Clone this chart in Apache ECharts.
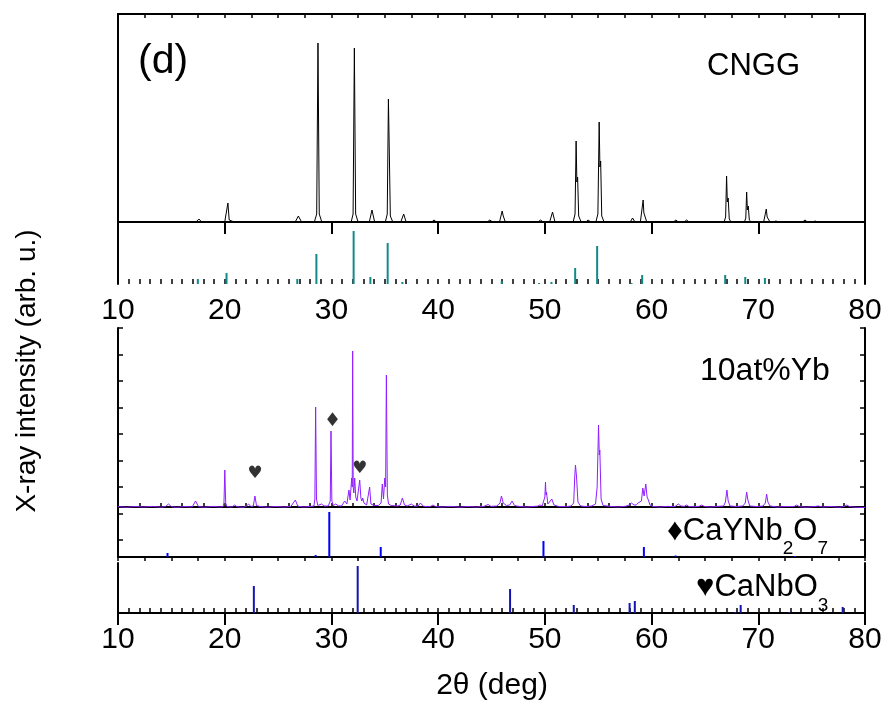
<!DOCTYPE html>
<html>
<head>
<meta charset="utf-8">
<title>XRD (d)</title>
<script src="https://cdn.jsdelivr.net/npm/echarts@6/dist/echarts.min.js"></script>
<style>
  html, body { margin: 0; padding: 0; background: #fff; }
  #chart { width: 886px; height: 704px; }
</style>
</head>
<body>
<div id="chart"></div>
<script>
// x tick labels
var xTicks = [10, 20, 30, 40, 50, 60, 70, 80];

// CNGG pattern: [2theta, intensity above baseline]
var cnggPattern = [
  [10,0],[13,0.3],[16,0],[17.3,0],[17.58,3],[17.85,0],[18.1,0],
  [20.0,0],[20.18,2],[20.3,19],[20.42,2],[20.6,0],[20.9,0],
  [26.6,0],[26.9,6],[27.2,0],[27.5,0],
  [28.4,0],[28.62,8],[28.74,179],[28.86,8],[29.1,0],[29.4,0],
  [31.85,0],[32.03,8],[32.15,174],[32.27,8],[32.5,0],[32.8,0],
  [33.55,0],[33.8,12],[34.05,0],[34.3,0],
  [35.05,0],[35.23,8],[35.34,123],[35.42,72],[35.52,6],[35.75,0],[36.0,0],
  [36.5,0],[36.77,8],[37.0,0],[37.3,0],
  [39.4,0],[39.61,2],[39.85,0],[40.1,0],
  [44.6,0],[44.84,2],[45.1,0],[45.4,0],
  [45.75,0],[46.0,11],[46.1,6],[46.3,0],[46.6,0],
  [49.35,0],[49.59,2],[49.85,0],[50.1,0],
  [50.45,0],[50.72,10],[50.95,0],[51.2,0],
  [52.65,0],[52.83,8],[52.93,81],[53.0,40],[53.07,45],[53.17,6],[53.4,0],[53.65,0],
  [53.85,0],[54.05,2],[54.3,0],[54.55,0],
  [54.78,0],[54.97,8],[55.09,100],[55.16,55],[55.23,61],[55.33,6],[55.55,0],[55.8,0],
  [58.0,0],[58.22,4],[58.45,0],[58.7,0],
  [58.95,0],[59.21,22],[59.28,9],[59.35,11],[59.55,0],[59.8,0],
  [62.05,0],[62.28,2],[62.5,0],[62.75,0],
  [63.05,0],[63.28,2],[63.5,0],[63.75,0],
  [66.8,0],[66.94,5],[67.03,46],[67.1,20],[67.18,24],[67.28,3],[67.45,0],[67.7,0],
  [68.7,0],[68.83,4],[68.91,30],[68.98,12],[69.06,16],[69.16,2],[69.35,0],[69.6,0],
  [70.5,0],[70.75,13],[70.83,5],[70.9,6],[71.1,0],[71.35,0],
  [71.66,1],[71.9,0],[72.15,0],
  [74.15,0],[74.38,2],[74.6,0],[74.85,0],
  [75.1,0],[75.32,1],[75.55,0],[75.8,0],
  [80,-0.5]
];

// CNGG reference lines
var cnggRef = [
  [17.48,5],[20.17,11],[26.8,5],[28.59,30],[32.08,53],[33.65,7],[35.27,41],
  [36.65,2],[45.96,3],[49.46,1],[50.62,2],[52.84,16],[54.9,38],[58.12,1],
  [59.12,9],[66.9,9],[68.78,7],[70.62,6]
];

// 10at%Yb pattern
var ybPattern = [
  [10,0.3],[10.8,-0.3],[11.6,0.5],[12.4,0],[13.2,0.6],[14,-0.2],[14.45,0.4],
  [14.74,3],[15.0,0.3],
  [15.5,-0.3],[16.3,0.5],[16.95,0],
  [17.27,6],[17.55,0.4],
  [18.1,-0.2],[18.9,0.6],[19.6,0],
  [19.84,0.5],[19.93,4],[20.01,37],[20.09,4],[20.2,0.5],
  [20.7,0],[20.92,2],[21.15,0.3],[21.7,-0.3],
  [22.0,0.5],[22.24,3],[22.45,0.5],
  [22.68,1],[22.83,11],[22.98,1.5],[23.3,0.5],[24.0,-0.2],[24.8,0.5],[25.6,0],[26.2,0.6],
  [26.62,7],[26.85,0.8],
  [27.4,0],[28.1,0.6],
  [28.36,1],[28.45,8],[28.52,100],[28.6,8],[28.72,1.5],
  [29.08,3],[29.3,1],
  [29.7,1],[29.89,6],[29.96,76],[30.04,6],[30.18,1.5],
  [30.4,3],[30.65,1.2],[30.95,1],
  [31.24,6],[31.45,3],
  [31.64,17],[31.75,7],[31.9,29],[31.95,20],[31.99,156],[32.04,20],[32.1,14],[32.18,29],[32.28,10],[32.4,6],[32.5,8],
  [32.65,27],[32.76,9],[32.85,6],[32.93,9],[33.05,4],[33.3,2],
  [33.58,20],[33.7,3],[34.0,1.5],[34.4,1.5],
  [34.65,4],[34.77,23],[34.88,8],[35.0,29],[35.08,20],[35.15,132],[35.24,12],[35.35,3],[35.6,1.5],
  [36.2,1],[36.45,2],[36.65,9],[36.85,2],[37.1,1],
  [37.49,3],[37.75,1],
  [38.1,0.8],[38.34,4],[38.6,0.8],
  [39.0,0.3],[39.3,0.6],[39.52,2],[39.75,0.4],
  [40.4,0],[41.2,0.6],[42.0,-0.2],[42.8,0.5],[43.6,0],[44.3,0.6],
  [44.68,2.5],[44.95,0.6],
  [45.5,1],[45.8,4],[45.93,11],[46.1,4],[46.4,1.5],
  [46.7,2],[46.93,6],[47.15,1.5],[47.6,0.5],[48.3,0],[49.0,0.6],
  [49.3,0.8],[49.53,2],[49.75,1],
  [49.92,2],[50.0,10],[50.06,25],[50.11,12],[50.15,15],[50.28,3],
  [50.45,2],[50.65,8],[50.85,2],[51.3,0.5],[52.0,0.3],[52.45,1],
  [52.7,4],[52.8,30],[52.87,42],[52.97,30],[53.1,5],[53.35,1],
  [53.8,0.5],[54.4,1],[54.75,3],[54.9,20],[55.03,82],[55.1,52],[55.15,57],[55.27,8],[55.45,1.5],
  [56.2,0.5],[56.9,0],[57.6,0.8],
  [57.9,2],[58.12,4],[58.35,2],[58.55,2],[58.74,4],[58.9,3],
  [59.05,6],[59.18,19],[59.3,11],[59.46,23],[59.58,10],[59.7,7],[59.85,2],[60.1,0.5],
  [60.8,0],[61.5,0.6],[62.2,0.5],
  [62.5,3],[62.75,1],
  [63.05,0.6],[63.28,2],[63.5,0.5],
  [64.0,0.3],[64.45,0.6],[64.69,2],[64.95,0.5],
  [65.5,0],[66.2,0.6],[66.75,1],
  [66.92,5],[67.06,17],[67.18,6],[67.35,1],
  [68.0,0.5],[68.55,1],[68.78,4],[68.91,15],[69.03,7],[69.2,1],
  [69.9,0.4],[70.45,1],[70.66,4],[70.78,13],[70.9,5],[71.1,1],
  [71.8,0],[72.6,0.5],[73.35,0.5],[73.6,2],[73.85,0.3],
  [74.5,-0.2],[75.2,0.4],[75.62,1],[76.0,0],[76.8,0.5],[77.6,-0.2],[78.05,0.5],[78.29,2],[78.55,0.4],[79.2,-0.3],[80,-0.5]
];

// CaYNb2O7 reference lines
var caynbRef = [
  [14.64,4],[28.52,2],[29.8,45],[34.62,10],[49.87,16],[59.28,10],[62.25,1.5],[73.41,1]
];

// CaNbO3 reference lines
var canbRef = [
  [22.73,27],[32.46,47],[46.74,24],[52.71,8],[57.94,10],[58.43,12],[67.84,1],[68.35,8],[72.9,1],[77.91,6]
];

// phase markers above the Yb pattern
var heartMarks = [[22.83,33],[32.65,38]];
var diamondMarks = [[30.11,86]];

var FONT = '"Liberation Sans", Arial, sans-serif';
var chart = echarts.init(document.getElementById('chart'));

function frameX(grid, pos, interval, tickLen, inside, showLine, showLabel) {
  return {
    type: 'value', gridIndex: grid, position: pos, min: 10, max: 80, interval: interval,
    axisLine: { show: showLine, lineStyle: { color: '#000', width: 2 } },
    axisTick: { show: true, inside: inside, length: tickLen, lineStyle: { color: '#000', width: inside ? 1.5 : 2 } },
    axisLabel: { show: showLabel, color: '#000', fontSize: 30, fontFamily: FONT, margin: 12 },
    splitLine: { show: false }
  };
}
function frameY(grid, pos, min, max, showLine) {
  return {
    type: 'value', gridIndex: grid, position: pos, min: min, max: max,
    axisLine: { show: showLine, onZero: false, lineStyle: { color: '#000', width: 2 } },
    axisTick: { show: false }, axisLabel: { show: false }, splitLine: { show: false }
  };
}
function tickY(grid, pos, max, interval) {
  return {
    type: 'value', gridIndex: grid, position: pos, min: 0, max: max, interval: interval, inverse: true,
    axisLine: { show: false },
    axisTick: { show: true, inside: true, length: 5, lineStyle: { color: '#000', width: 1.5 } },
    axisLabel: { show: false }, splitLine: { show: false }
  };
}

var option = {
  backgroundColor: '#fff',
  animation: false,
  grid: [
    { left: 118, right: 21, top: 14, height: 270 },
    { left: 118, right: 21, top: 328, height: 229 },
    { left: 118, right: 21, top: 563, height: 50 }
  ],
  xAxis: [
    frameX(0, 'bottom', 10, 12, false, true, true),
    frameX(0, 'bottom', 1, 5, true, false, false),
    frameX(0, 'top', 2.5, 4, true, true, false),
    frameX(1, 'bottom', 2, 4, true, true, false),
    frameX(1, 'top', 2.5, 4, true, true, false),
    frameX(2, 'bottom', 10, 12, false, true, true),
    frameX(2, 'bottom', 1, 5, true, false, false)
  ],
  yAxis: [
    frameY(0, 'left', -62, 208, true),
    frameY(0, 'right', 0, 270, true),
    frameY(1, 'left', -50, 179, true),
    frameY(1, 'right', 0, 229, true),
    tickY(1, 'left', 229, 26.5),
    tickY(1, 'right', 229, 26.5),
    frameY(2, 'left', 0, 50, true),
    frameY(2, 'right', 0, 50, true)
  ],
  series: [
    { type: 'line', xAxisIndex: 0, yAxisIndex: 0, data: cnggPattern, symbol: 'none',
      lineStyle: { color: '#000', width: 1 } },
    { type: 'bar', xAxisIndex: 0, yAxisIndex: 1, data: cnggRef, barWidth: 2,
      itemStyle: { color: '#118a8a' } },
    { type: 'line', xAxisIndex: 3, yAxisIndex: 2, data: ybPattern, symbol: 'none',
      lineStyle: { color: '#8f1fff', width: 1 } },
    { type: 'bar', xAxisIndex: 3, yAxisIndex: 3, data: caynbRef, barWidth: 2,
      itemStyle: { color: '#0000ff' } },
    { type: 'bar', xAxisIndex: 5, yAxisIndex: 6, data: canbRef, barWidth: 2,
      itemStyle: { color: '#1414b4' } },
    { type: 'scatter', xAxisIndex: 3, yAxisIndex: 2, data: heartMarks, symbolSize: 0,
      label: { show: true, position: 'inside', formatter: '\u2665', color: '#000', fontSize: 17, fontFamily: 'DejaVu Sans' } },
    { type: 'scatter', xAxisIndex: 3, yAxisIndex: 2, data: diamondMarks, symbolSize: 0,
      label: { show: true, position: 'inside', formatter: '\u2666', color: '#000', fontSize: 19, fontFamily: 'DejaVu Sans' } }
  ],
  graphic: [
    { type: 'text', x: 138, y: 62, style: { text: '(d)', font: '41px ' + FONT, fill: '#000', align: 'left', verticalAlign: 'middle', textAlign: 'left', textVerticalAlign: 'middle' } },
    { type: 'text', x: 707, y: 66, style: { text: 'CNGG', font: '31px ' + FONT, fill: '#000', align: 'left', verticalAlign: 'middle', textAlign: 'left', textVerticalAlign: 'middle' } },
    { type: 'text', x: 700, y: 371, style: { text: '10at%Yb', font: '32px ' + FONT, fill: '#000', align: 'left', verticalAlign: 'middle', textAlign: 'left', textVerticalAlign: 'middle' } },
    { type: 'text', x: 667, y: 516, style: {
        text: '{m|\u2666CaYNb}{s|2}{m|O}{s|7}', fill: '#000', align: 'left', verticalAlign: 'top',
        rich: {
          m: { fontSize: 31, lineHeight: 31, fontFamily: FONT, verticalAlign: 'top' },
          s: { fontSize: 19, lineHeight: 19, fontFamily: FONT, verticalAlign: 'top', padding: [23, 0, 0, 0] }
        } } },
    { type: 'text', x: 696, y: 572, style: {
        text: '{m|\u2665CaNbO}{s|3}', fill: '#000', align: 'left', verticalAlign: 'top',
        rich: {
          m: { fontSize: 31, lineHeight: 31, fontFamily: FONT, verticalAlign: 'top' },
          s: { fontSize: 19, lineHeight: 19, fontFamily: FONT, verticalAlign: 'top', padding: [24, 0, 0, 0] }
        } } },
    { type: 'text', x: 492, y: 686, style: { text: '2\u03b8 (deg)', font: '30px ' + FONT, fill: '#000', align: 'center', verticalAlign: 'middle', textAlign: 'center', textVerticalAlign: 'middle' } },
    { type: 'text', x: 27, y: 371, rotation: Math.PI / 2, style: { text: 'X-ray intensity (arb. u.)', font: '28px ' + FONT, fill: '#000', align: 'center', verticalAlign: 'middle', textAlign: 'center', textVerticalAlign: 'middle' } }
  ]
};
chart.setOption(option);
</script>
</body>
</html>
